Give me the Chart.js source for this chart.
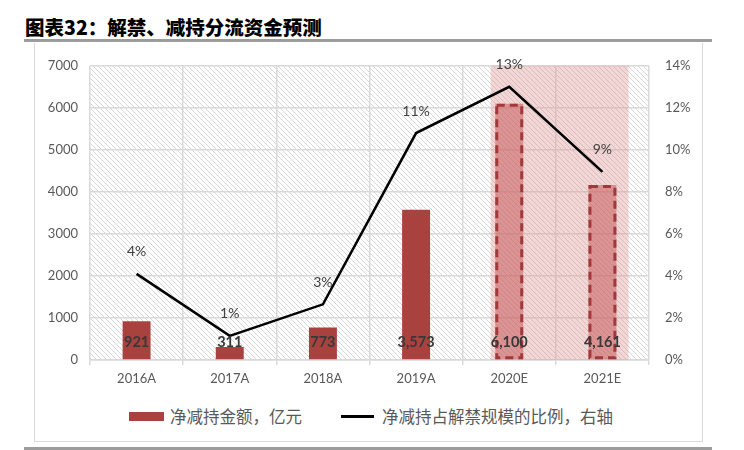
<!DOCTYPE html>
<html>
<head>
<meta charset="utf-8">
<script src="https://cdn.jsdelivr.net/npm/chart.js@4.4.1/dist/chart.umd.min.js"></script>
<style>
  html, body { margin: 0; padding: 0; background: #fff; }
  #page { position: relative; width: 744px; height: 450px; overflow: hidden; }
  #title {
    position: absolute; left: 25px; top: 16px;
    font-family: "Noto Sans CJK SC", sans-serif; font-weight: 900; font-size: 19.5px;
    color: #000; white-space: nowrap; line-height: 22px;
  }
  .rule { position: absolute; left: 24px; width: 688px; height: 3px; background: #9c9c9c; }
  #box { position: absolute; left: 34px; top: 43px; width: 667px; height: 398px; border: 1.5px solid #d9d9d9; border-top: none; }
  #wrap { position: absolute; left: 34px; top: 42px; width: 668px; height: 360px; }
  .leg { position: absolute; font-family: "Noto Sans CJK SC", sans-serif; font-size: 16.5px; color: #595959; white-space: nowrap; line-height: 20px; }
</style>
</head>
<body>
<div id="page">
  <div id="title">图表32：解禁、减持分流资金预测</div>
  <div class="rule" style="top:39px"></div>
  <div id="box"></div>
  <div class="rule" style="top:447px"></div>
  <div id="wrap"><canvas id="chart" width="668" height="360"></canvas></div>
  <div style="position:absolute;left:129px;top:412px;width:35px;height:9px;background:#A9423F"></div>
  <div class="leg" style="left:170px;top:406px">净减持金额，亿元</div>
  <div style="position:absolute;left:341px;top:415px;width:33px;height:3px;background:#000"></div>
  <div class="leg" style="left:382px;top:406px">净减持占解禁规模的比例，右轴</div>
</div>
<script>
// 年份
const years = ['2016A', '2017A', '2018A', '2019A', '2020E', '2021E'];
// 净减持金额，亿元
const netReduction = [921, 311, 773, 3573, 6100, 4161];
// 净减持占解禁规模的比例 (%)
const reductionRatio = [4.1, 1.15, 2.65, 10.8, 13.0, 8.95];
// 预测年份（虚线柱）
const forecastIdx = [4, 5];

const leftTicks = { min: 0, max: 7000, step: 1000 };
const rightTicks = { min: 0, max: 14, step: 2 };

const barRed = '#A9423F';
const tickFont = { family: 'Lato', size: 13 };

// diagonal hatch for the plot background
function hatchPattern(ctx) {
    const c = document.createElement('canvas');
    c.width = 5; c.height = 5;
    const p = c.getContext('2d');
    p.fillStyle = '#ffffff';
    p.fillRect(0, 0, 5, 5);
    p.strokeStyle = '#d6d6d6';
    p.lineWidth = 1;
    p.beginPath();
    p.moveTo(-1, -1); p.lineTo(6, 6);
    p.moveTo(-1, 4); p.lineTo(1, 6);
    p.moveTo(4, -1); p.lineTo(6, 1);
    p.stroke();
    return ctx.createPattern(c, 'repeat');
}

const backdrop = {
    id: 'backdrop',
    beforeDraw(chart) {
        const { ctx, chartArea: a } = chart;
        ctx.save();
        ctx.fillStyle = hatchPattern(ctx);
        ctx.fillRect(a.left, a.top, a.right - a.left, a.bottom - a.top);
        ctx.restore();
    },
    beforeDatasetsDraw(chart) {
        // pink band behind the forecast years
        const { ctx, chartArea: a, scales: { x } } = chart;
        const w = x.getPixelForValue(1) - x.getPixelForValue(0);
        const l = x.getPixelForValue(forecastIdx[0]) - 0.2 * w;
        const r = x.getPixelForValue(forecastIdx[forecastIdx.length - 1]) + 0.28 * w;
        ctx.save();
        ctx.fillStyle = 'rgba(222,150,148,0.38)';
        ctx.fillRect(l, a.top, r - l, a.bottom - a.top);
        ctx.restore();
    }
};

const labels = {
    id: 'labels',
    afterDatasetsDraw(chart) {
        const { ctx, chartArea: a } = chart;
        const barMeta = chart.getDatasetMeta(1);
        const lineMeta = chart.getDatasetMeta(0);
        ctx.save();

        // dashed outline on forecast bars
        ctx.strokeStyle = '#A3383A';
        ctx.lineWidth = 3;
        ctx.setLineDash([8, 5]);
        forecastIdx.forEach(i => {
            const b = barMeta.data[i];
            const half = b.width / 2;
            ctx.strokeRect(b.x - half + 1.5, b.y + 1.5, b.width - 3, b.base - b.y - 3);
        });
        ctx.setLineDash([]);

        ctx.textAlign = 'center';
        ctx.textBaseline = 'middle';

        ctx.fillStyle = '#383838';
        ctx.font = 'bold 14.5px Lato';
        barMeta.data.forEach((b, i) => {
            ctx.fillText(netReduction[i].toLocaleString('en-US'), b.x, a.bottom - 18);
        });

        ctx.fillStyle = '#404040';
        ctx.font = '14px Lato';
        lineMeta.data.forEach((p, i) => {
            ctx.fillText(Math.round(reductionRatio[i]) + '%', p.x, p.y - 22);
        });
        ctx.restore();
    }
};

new Chart(document.getElementById('chart').getContext('2d'), {
    type: 'bar',
    data: {
        labels: years,
        datasets: [{
            type: 'line',
            label: '净减持占解禁规模的比例，右轴',
            data: reductionRatio,
            yAxisID: 'y1',
            borderColor: '#000',
            borderWidth: 2.5,
            pointRadius: 0,
            tension: 0,
            order: 0
        }, {
            type: 'bar',
            label: '净减持金额，亿元',
            data: netReduction,
            yAxisID: 'y',
            backgroundColor: years.map((_, i) => forecastIdx.includes(i) ? 'rgba(196,82,80,0.5)' : barRed),
            borderWidth: 0,
            barPercentage: 0.3,
            categoryPercentage: 1,
            order: 1
        }]
    },
    options: {
        responsive: false,
        animation: false,
        layout: { padding: { top: 21, left: 0, right: 0, bottom: 0 } },
        plugins: { legend: { display: false }, tooltip: { enabled: false } },
        scales: {
            x: {
                offset: true,
                grid: { color: '#d9d9d9', lineWidth: 1.5, offset: true, tickLength: 5 },
                border: { color: '#d9d9d9', width: 1.5 },
                ticks: { color: '#595959', font: tickFont, padding: 6, maxRotation: 0 },
                afterFit(s) { s.height = 42; }
            },
            y: {
                position: 'left',
                min: leftTicks.min, max: leftTicks.max,
                grid: { color: '#d9d9d9', lineWidth: 1.5, drawTicks: false },
                border: { display: false },
                ticks: { stepSize: leftTicks.step, color: '#595959', font: tickFont, padding: 12, callback: v => String(v) },
                afterFit(s) { s.width = 56; }
            },
            y1: {
                position: 'right',
                min: rightTicks.min, max: rightTicks.max,
                grid: { drawOnChartArea: false, drawTicks: false },
                border: { display: false },
                ticks: { stepSize: rightTicks.step, color: '#595959', font: tickFont, padding: 16, callback: v => v + '%' },
                afterFit(s) { s.width = 53; }
            }
        }
    },
    plugins: [backdrop, labels]
});
</script>
</body>
</html>
